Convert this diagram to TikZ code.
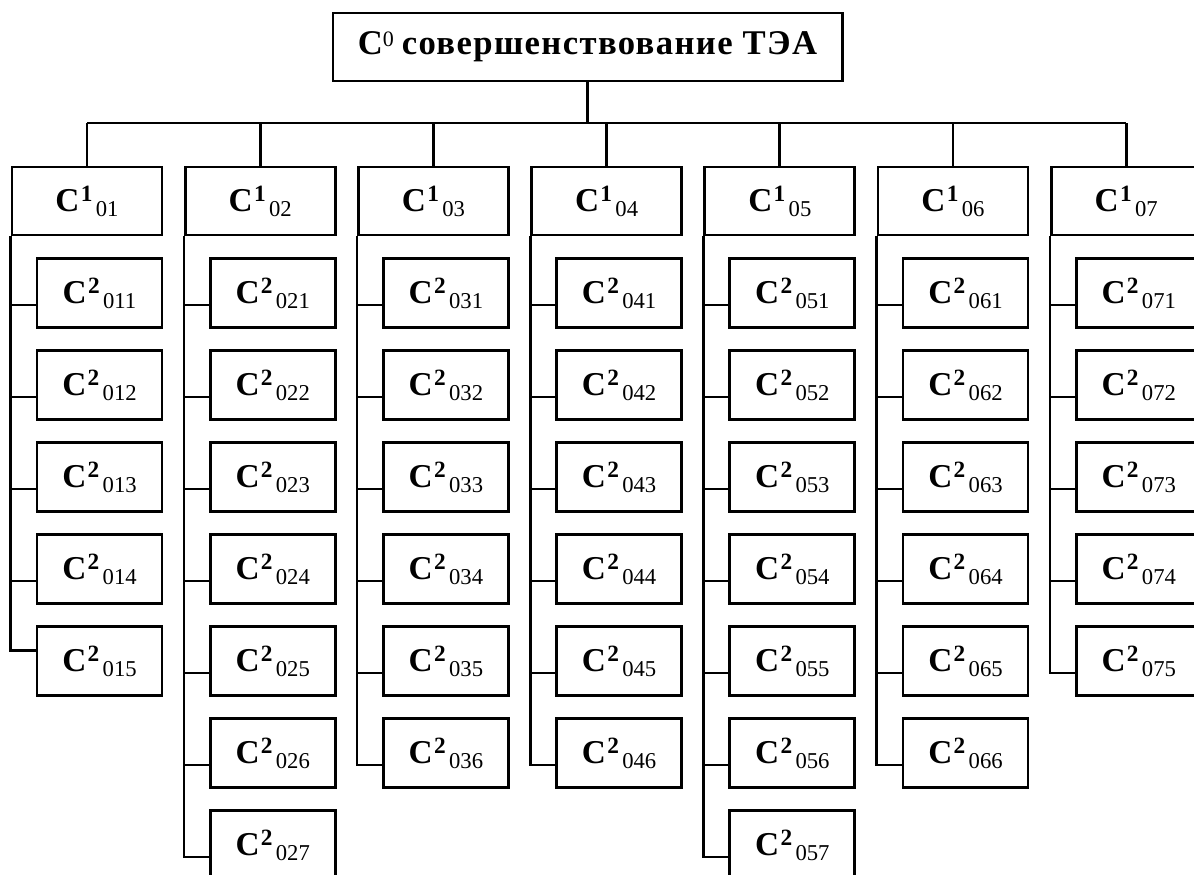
\documentclass[tikz,border=0pt]{standalone}
\usepackage{fontspec}
\setmainfont{Liberation Serif}

% C with an upper index and a lower index set one after the other
\newcommand{\clabel}[2]{%
  {\fontsize{25pt}{25pt}\selectfont\bfseries C}%
  \hspace{1pt}%
  \raisebox{7.5pt}{\fontsize{17.5pt}{17.5pt}\selectfont\bfseries #1}%
  \hspace{2.5pt}%
  \raisebox{-3.75pt}{\fontsize{17pt}{17pt}\selectfont #2}}

\begin{document}
\begin{tikzpicture}
[x=0.75pt,y=-0.75pt,
  lineDecorate/.style={-,line width=2pt},%
  rootDecorate/.style={draw,line width=2pt,inner sep=0pt,minimum width=382pt,minimum height=51pt},%
  headDecorate/.style={draw,line width=2pt,inner sep=0pt,minimum width=112.5pt,minimum height=51pt},%
  leafDecorate/.style={draw,line width=2pt,inner sep=0pt,minimum width=93.75pt,minimum height=51.75pt}]
\useasboundingbox (0,0) rectangle (1194,874);
%% root
\node (C0) at (587.5,47) [rootDecorate]
  {\addfontfeature{LetterSpace=4}%
   {\fontsize{26pt}{26pt}\selectfont\bfseries C}\raisebox{6.3pt}{\fontsize{16.5pt}{16.5pt}\selectfont 0}%
   \hspace{6pt}{\fontsize{26pt}{26pt}\selectfont\bfseries совершенствование ТЭА}};
%% bus line
\coordinate (busL) at (87,123);
\coordinate (busR) at (1126,123);
\draw[lineDecorate] (busL) -- (busR);
\draw[lineDecorate] (C0.south) -- (C0.south |- busL);
%% columns and their leaves (last value: shift of the lowest elbow)
\foreach \col/\nkids/\lastdy in {1/5/8,2/7/-9,3/6/-9,4/6/-9,5/7/-9,6/6/-9,7/5/-9}
{
  \pgfmathsetmacro\xl{12+173.2*(\col-1)}
  \node (C1-\col) at (\xl+75,201) [headDecorate] {\clabel{1}{0\col}};
  \draw[lineDecorate] (C1-\col.north) -- (C1-\col.north |- busL);
  \foreach \k in {1,...,\nkids}
  {
    \pgfmathsetmacro\dy{\k==\nkids ? \lastdy : -9}
    \node (C2-\col\k) at (\xl+87.5,293+92*\k-92) [leafDecorate] {\clabel{2}{0\col\k}};
    \draw[lineDecorate] (C1-\col.south west) |- ([yshift=\dy pt]C2-\col\k.west);
  }
}
\end{tikzpicture}
\end{document}
